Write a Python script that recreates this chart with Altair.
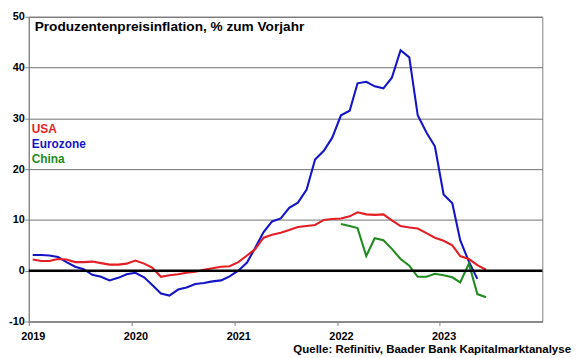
import altair as alt
import pandas as pd

# Monthly values, % yoy
usa_values = [2.2, 1.9, 1.9, 2.3, 2.2, 1.7, 1.7, 1.8, 1.5, 1.2, 1.2, 1.4,
              2.0, 1.4, 0.6, -1.2, -0.9, -0.7, -0.4, -0.2, 0.2, 0.5, 0.8, 0.9,
              1.7, 3.0, 4.2, 6.5, 7.1, 7.5, 8.0, 8.6, 8.8, 9.0, 10.0, 10.2,
              10.3, 10.7, 11.5, 11.1, 11.0, 11.1, 9.9, 8.8, 8.5, 8.3, 7.4, 6.5,
              5.9, 5.0, 2.9, 2.3, 1.1, 0.2]
euro_values = [3.1, 3.1, 3.0, 2.7, 1.7, 0.8, 0.3, -0.8, -1.2, -1.9, -1.4, -0.7,
               -0.4, -1.3, -2.8, -4.5, -4.9, -3.7, -3.3, -2.6, -2.4, -2.1, -1.9, -1.1,
               0.0, 1.6, 4.4, 7.6, 9.7, 10.3, 12.4, 13.4, 16.0, 21.9, 23.6, 26.2,
               30.6, 31.5, 36.9, 37.2, 36.3, 35.9, 38.0, 43.4, 42.0, 30.6, 27.2, 24.5,
               15.0, 13.3, 6.0, 1.8, -1.6]
china_values = [9.2, 8.8, 8.4, 2.9, 6.4, 6.0, 4.3, 2.3, 1.0, -1.2, -1.2, -0.6,
                -0.9, -1.3, -2.3, 1.4, -4.6, -5.2]

series_names = ["USA", "Eurozone", "China"]
series_colors = ["#e31e24", "#1515c8", "#228b22"]
year_ticks = [2019, 2020, 2021, 2022, 2023]


def months(start, n):
    return [d.strftime("%Y-%m-15") for d in pd.date_range(start, periods=n, freq="MS")]


rows = []
for name, start, vals in [("Eurozone", "2019-01-01", euro_values),
                          ("USA", "2019-01-01", usa_values),
                          ("China", "2022-01-01", china_values)]:
    for d, v in zip(months(start, len(vals)), vals):
        rows.append({"date": d, "value": v, "series": name})
df = pd.DataFrame(rows)

FONT = "Liberation Sans"

x_scale = alt.Scale(domain=[alt.DateTime(year=2019, month=1, date=1),
                            alt.DateTime(year=2024, month=1, date=1)])
y_scale = alt.Scale(domain=[-10, 50], nice=False)

lines = alt.Chart(df).mark_line(strokeWidth=2.1).encode(
    x=alt.X("date:T", scale=x_scale,
            axis=alt.Axis(values=[alt.DateTime(year=y, month=1, date=1) for y in year_ticks],
                          format="%Y", grid=False, title=None, labelPadding=5,
                          labelAlign="center", labelOffset=4)),
    y=alt.Y("value:Q", scale=y_scale,
            axis=alt.Axis(values=list(range(-10, 51, 10)), grid=True, title=None,
                          labelPadding=0.5, labelExpr="'' + datum.value")),
    color=alt.Color("series:N", scale=alt.Scale(domain=series_names, range=series_colors),
                    legend=None),
    detail="series:N",
)

zero = alt.Chart(pd.DataFrame({"y": [0]})).mark_rule(color="black", strokeWidth=2.5).encode(
    y=alt.Y("y:Q", scale=y_scale)
)

one = pd.DataFrame({"a": [0]})
title = alt.Chart(one).mark_text(
    text="Produzentenpreisinflation, % zum Vorjahr", font=FONT, fontWeight="bold",
    fontSize=13.8, align="left", baseline="alphabetic", color="black"
).encode(x=alt.value(6), y=alt.value(14))

legend_items = []
for i, (name, col) in enumerate(zip(series_names, series_colors)):
    legend_items.append(alt.Chart(one).mark_text(
        text=name, font=FONT, fontWeight="bold", fontSize=12, align="left",
        baseline="alphabetic", color=col
    ).encode(x=alt.value(3), y=alt.value(117 + 15.5 * i)))

source = alt.Chart(one).mark_text(
    text="Quelle: Refinitiv, Baader Bank Kapitalmarktanalyse", font=FONT,
    fontWeight="bold", fontSize=11.6, align="right", baseline="alphabetic", color="black"
).encode(x=alt.value(548), y=alt.value(340))

chart = alt.layer(lines, zero, title, *legend_items, source).properties(
    width=519, height=308,
    autosize=alt.AutoSizeParams(type="none"),
    padding={"left": 21, "top": 7, "right": 30, "bottom": 35},
).configure_axis(
    labelFont=FONT, labelFontWeight="bold", labelFontSize=11, labelColor="black",
    tickColor="#808080", domainColor="#808080", gridColor="#707070", tickSize=4,
    gridWidth=1,
).configure_view(stroke="#808080")

chart.save("out.html", embed_options={"renderer": "svg", "actions": False})
